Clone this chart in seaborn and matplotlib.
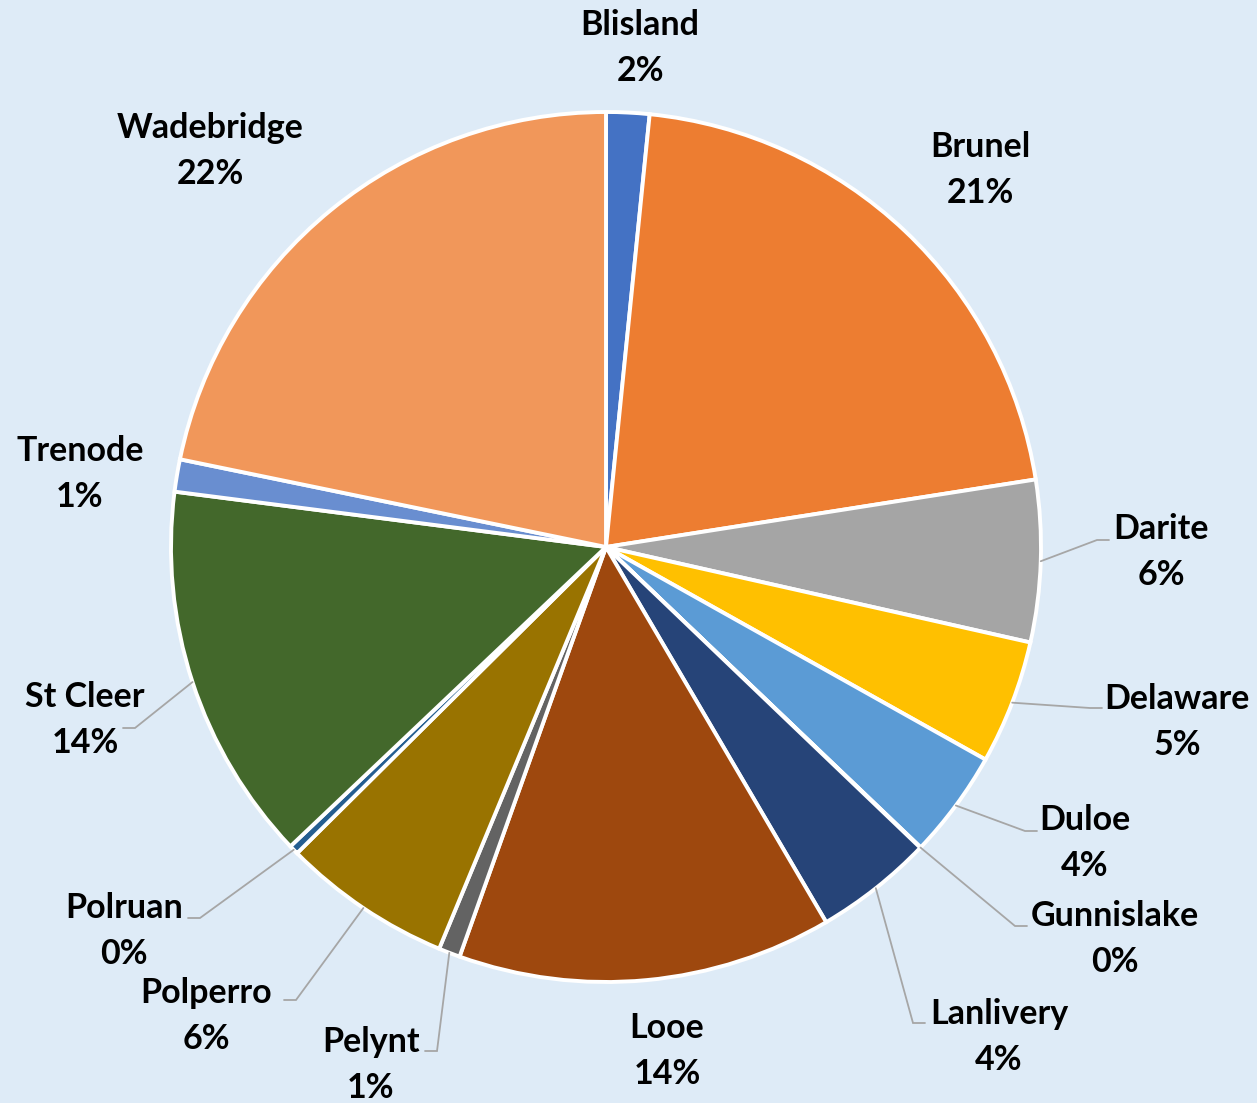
"""
Pie chart of share by area (Cornwall)
"""
import numpy as np
import seaborn as sns
import matplotlib.pyplot as plt

# data
areas = ['Blisland', 'Brunel', 'Darite', 'Delaware', 'Duloe', 'Gunnislake',
         'Lanlivery', 'Looe', 'Pelynt', 'Polperro', 'Polruan', 'St Cleer',
         'Trenode', 'Wadebridge']
shares = [1.6, 20.9, 6.0, 4.6, 4.0, 0.02, 4.4, 13.9, 0.8, 6.3, 0.35, 14.1, 1.2, 21.75]
colours = ['#4472C4', '#ED7D31', '#A5A5A5', '#FFC000', '#5B9BD5', '#70AD47',
           '#264478', '#9E480E', '#636363', '#997300', '#255E91', '#43682B',
           '#698ED0', '#F1975A']

# label layout, in pixels of the final image (text centre, leader elbow or None)
W, H = 1257, 1103
CX, CY, R = 606, 547, 435
label_pos = {
    'Blisland': ((640, 48), None),
    'Brunel': ((980, 170), None),
    'Darite': ((1161, 552), (1097, 540, 1)),
    'Delaware': ((1177, 722), (1090, 708, 1)),
    'Duloe': ((1085, 843), (1025, 831, 1)),
    'Gunnislake': ((1115, 939), (1015, 926, 1)),
    'Lanlivery': ((999, 1037), (913, 1023, 1)),
    'Looe': ((667, 1051), None),
    'Pelynt': ((371, 1065), (437, 1051, -1)),
    'Polperro': ((206, 1016), (296, 1000, -1)),
    'Polruan': ((124, 931), (200, 918, -1)),
    'St Cleer': ((85, 720), (135, 728, -1)),
    'Trenode': ((80, 474), None),
    'Wadebridge': ((210, 151), None),
}


def px(x, y):
    """pixel position -> data coords (pie radius = 1)"""
    return (x - CX) / R, (CY - y) / R


sns.set_theme(style='white')
plt.rcParams['font.family'] = ['Lato', 'DejaVu Sans']
bg = '#DEEBF7'

fig = plt.figure(figsize=(W / 100, H / 100), dpi=100, facecolor=bg)
ax = fig.add_axes([0, 0, 1, 1])
ax.set_facecolor(bg)

wedges, _ = ax.pie(shares, colors=colours, startangle=90, counterclock=False,
                   radius=1, wedgeprops=dict(edgecolor='white', linewidth=2.8))

total = sum(shares)
for w, name, val in zip(wedges, areas, shares):
    (tx, ty), elbow = label_pos[name]
    x, y = px(tx, ty)
    ax.text(x, y, f'{name}\n{val / total * 100:.0f}%', ha='center', va='center',
            fontsize=24.5, fontweight='bold', color='black', linespacing=1.52)
    if elbow is not None:
        mid = np.deg2rad((w.theta1 + w.theta2) / 2)
        sx, sy = np.cos(mid), np.sin(mid)
        ex, ey = px(elbow[0], elbow[1])
        fx, fy = px(elbow[0] + 12 * elbow[2], elbow[1])
        ax.plot([sx, ex, fx], [sy, ey, fy], color='#A6A6A6', lw=1.3,
                solid_joinstyle='miter')

ax.set_xlim(-CX / R, (W - CX) / R)
ax.set_ylim(-(H - CY) / R, CY / R)
ax.set_aspect('equal')
ax.axis('off')

plt.savefig('out.png', dpi=100, facecolor=bg)
plt.close()
